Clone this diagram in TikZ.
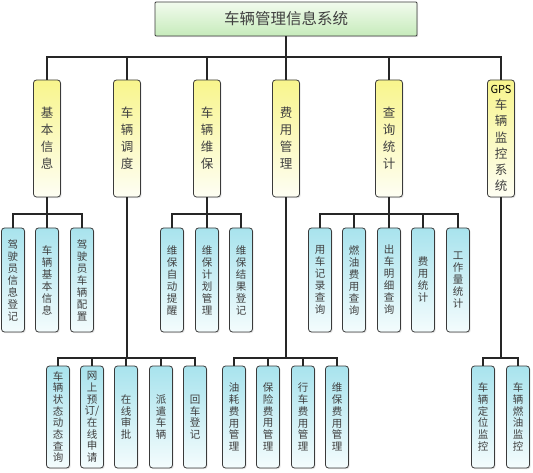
\documentclass[tikz,border=0pt]{standalone}
\usepackage{fontspec}
\setmainfont{Noto Sans CJK SC}
\usetikzlibrary{shadows}
\definecolor{sysTop}{HTML}{F2FBEE}
\definecolor{sysBot}{HTML}{C6EBBB}
\definecolor{modTop}{HTML}{F8F58C}
\definecolor{modBot}{HTML}{FEFEF4}
\definecolor{funTop}{HTML}{A8E3ED}
\definecolor{funBot}{HTML}{F4FCFD}
\definecolor{boxLine}{HTML}{3A3A3A}
\definecolor{lineC}{HTML}{262626}
\definecolor{txtC}{HTML}{404040}
\begin{document}
\begin{tikzpicture}[x=1pt,y=-1pt,
  box/.style={draw=boxLine,line width=0.8pt,rounded corners=3pt,inner sep=0pt,align=center,text=txtC,
    drop shadow={opacity=0.2,shadow xshift=1.2pt,shadow yshift=-1.2pt}},
  sysbox/.style={box,rounded corners=1pt,top color=sysTop,bottom color=sysBot,minimum width=262pt,minimum height=34pt,font=\fontsize{15.5}{16}\selectfont},
  modbox/.style={box,top color=modTop,bottom color=modBot,minimum width=27pt,minimum height=117pt,font=\fontsize{12.5}{17}\selectfont},
  funbox/.style={box,top color=funTop,bottom color=funBot,minimum width=23pt,minimum height=104pt,font=\fontsize{10.5}{12}\selectfont},
  link/.style={draw=lineC,line width=1.2pt}]
\useasboundingbox (0,0) rectangle (533,473);
% root and bus levels
\node[sysbox] (sys) at (286,19) {车辆管理信息系统};
\coordinate (bus0) at (0,57);
\coordinate (bus1) at (0,214);
\coordinate (bus2) at (0,358);
% modules
\node[modbox] (jb) at (47,138.5) {基\\本\\信\\息};
\node[modbox] (dd) at (127,138.5) {车\\辆\\调\\度};
\node[modbox] (wb) at (207,138.5) {车\\辆\\维\\保};
\node[modbox] (fy) at (286,138.5) {费\\用\\管\\理};
\node[modbox] (cx) at (389,138.5) {查\\询\\统\\计};
\node[modbox,font=\fontsize{12.5}{16.2}\selectfont] (gps) at (501,138.5) {{\fontsize{11}{11}\selectfont\color{black}GPS}\\车\\辆\\监\\控\\系\\统};
\foreach \m in {jb,dd,wb,fy,cx,gps}
  \draw[link] (sys.south) -- (sys.south |- bus0) -| (\m.north);
% functions, upper row
\foreach \x/\lbl [count=\i] in {13/{驾\\驶\\员\\信\\息\\登\\记},47/{车\\辆\\基\\本\\信\\息},82/{驾\\驶\\员\\车\\辆\\配\\置}}{
  \node[funbox] (jb\i) at (\x,280) {\lbl};
  \draw[link] (jb.south) -- (jb.south |- bus1) -| (jb\i.north);
}
\foreach \x/\lbl [count=\i] in {172/{维\\保\\自\\动\\提\\醒},207/{维\\保\\计\\划\\管\\理},241/{维\\保\\结\\果\\登\\记}}{
  \node[funbox] (wb\i) at (\x,280) {\lbl};
  \draw[link] (wb.south) -- (wb.south |- bus1) -| (wb\i.north);
}
\foreach \x/\lbl [count=\i] in {320/{用\\车\\记\\录\\查\\询},354/{燃\\油\\费\\用\\查\\询},389/{出\\车\\明\\细\\查\\询},423/{费\\用\\统\\计},458/{工\\作\\量\\统\\计}}{
  \node[funbox] (cx\i) at (\x,280) {\lbl};
  \draw[link] (cx.south) -- (cx.south |- bus1) -| (cx\i.north);
}
% functions, lower row
\foreach \x/\lbl [count=\i] in {58/{车\\辆\\状\\态\\动\\态\\查\\询},92/{网\\上\\预\\订/\\在\\线\\申\\请},126/{在\\线\\审\\批},161/{派\\遣\\车\\辆},195/{回\\车\\登\\记}}{
  \node[funbox,minimum height=102pt,font=\fontsize{10.5}{11.7}\selectfont] (dd\i) at (\x,417) {\lbl};
  \draw[link] (dd.south) -- (dd.south |- bus2) -| (dd\i.north);
}
\foreach \x/\lbl [count=\i] in {234/{油\\耗\\费\\用\\管\\理},268/{保\\险\\费\\用\\管\\理},303/{行\\车\\费\\用\\管\\理},337/{维\\保\\费\\用\\管\\理}}{
  \node[funbox,minimum height=102pt,font=\fontsize{10.5}{11.7}\selectfont] (fy\i) at (\x,417) {\lbl};
  \draw[link] (fy.south) -- (fy.south |- bus2) -| (fy\i.north);
}
\foreach \x/\lbl [count=\i] in {483/{车\\辆\\定\\位\\监\\控},518/{车\\辆\\燃\\油\\监\\控}}{
  \node[funbox,minimum height=102pt,font=\fontsize{10.5}{11.7}\selectfont] (gps\i) at (\x,417) {\lbl};
  \draw[link] (gps.south) -- (gps.south |- bus2) -| (gps\i.north);
}
\end{tikzpicture}
\end{document}
